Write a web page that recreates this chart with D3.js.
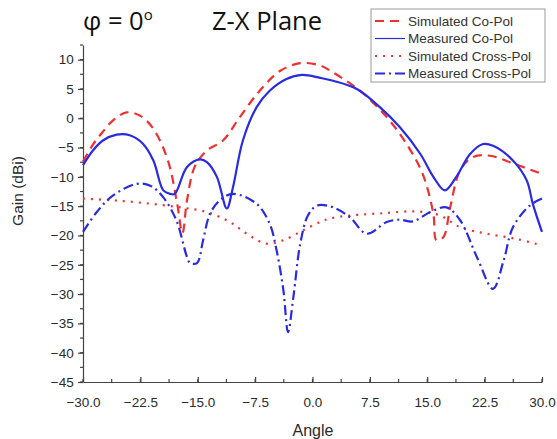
<!DOCTYPE html>
<html><head><meta charset="utf-8">
<script src="https://cdn.jsdelivr.net/npm/d3@7"></script>
<style>body{margin:0;background:#fff}svg{display:block}</style>
</head><body>
<svg id="c" width="557" height="439"></svg>
<script>
const xTicks = [-30, -22.5, -15, -7.5, 0, 7.5, 15, 22.5, 30];
const yTicks = [10, 5, 0, -5, -10, -15, -20, -25, -30, -35, -40, -45];
const seriesNames = ["Simulated Co-Pol", "Measured Co-Pol", "Simulated Cross-Pol", "Measured Cross-Pol"];

const simCo = [[-30,-7.4],[-28.7,-4.5],[-27.4,-2.3],[-26.1,-0.4],[-24.3,1.0],[-22.5,0.4],[-20.8,-1.8],[-18.9,-7.2],[-17.7,-14.5],[-17.0,-19.6],[-16.4,-14],[-15.4,-8.3],[-13.8,-5.5],[-11.7,-3.8],[-9.5,0.2],[-6.9,4.7],[-4.2,8.1],[-1.6,9.4],[1.0,9.0],[2.7,7.8],[6.2,4.7],[9.7,0.2],[12.3,-4.4],[14.4,-9.5],[15.8,-16.3],[16.2,-20.8],[17.1,-20.3],[18.0,-15.2],[19.3,-8.9],[21.0,-6.6],[23.2,-6.4],[26.2,-7.7],[30,-9.5]];
const measCo = [[-30,-8.0],[-28.7,-5.5],[-27.4,-3.8],[-25.6,-2.8],[-23.9,-2.9],[-22.2,-4.3],[-20.8,-7.2],[-19.5,-12.3],[-18.6,-12.9],[-18.0,-12.9],[-16.4,-8.3],[-14.7,-7.0],[-13.8,-7.5],[-12.5,-10.0],[-11.2,-15.4],[-10.4,-11.8],[-9.1,-3.8],[-7.3,1.9],[-5.6,4.7],[-3.4,6.7],[-1.4,7.4],[1.0,6.9],[2.7,6.4],[5.8,5.0],[8.8,1.9],[11.4,-1.5],[14.1,-6.1],[15.8,-10.0],[17.3,-12.3],[18.8,-10.0],[20.6,-6.1],[22.3,-4.4],[23.6,-4.7],[26.2,-7.2],[28.0,-10.6],[28.8,-14.6],[30,-19.4]];
const simCross = [[-30,-13.7],[-26.1,-14.0],[-21.7,-14.5],[-17.3,-15.2],[-13.8,-16.0],[-10.8,-17.7],[-8.6,-19.7],[-6.0,-21.4],[-3.8,-20.8],[-1.2,-19.1],[1.0,-17.7],[2.3,-17.1],[4.9,-16.6],[9.2,-16.2],[13.6,-15.9],[16.7,-16.6],[19.3,-18.6],[22.8,-19.7],[26.7,-20.6],[30,-21.7]];
const measCross = [[-30,-19.4],[-28.2,-16.0],[-26.1,-13.2],[-23.0,-11.2],[-21.2,-11.5],[-19.5,-13.5],[-17.8,-17.4],[-16.4,-23.7],[-16.0,-24.7],[-15.1,-24.7],[-14.3,-20.8],[-13.4,-16.3],[-12.1,-14.0],[-10.4,-12.9],[-7.3,-14.6],[-5.6,-18.0],[-4.7,-22.5],[-3.8,-29.4],[-3.2,-36.5],[-2.5,-30.5],[-1.6,-21.4],[-0.6,-16.6],[0.6,-14.9],[2.7,-15.2],[4.9,-16.9],[7.1,-19.7],[9.7,-17.7],[11.4,-17.3],[13.1,-17.6],[15.4,-16.0],[17.5,-15.2],[19.3,-17.4],[21.5,-23.7],[23.6,-29.1],[25.0,-24.2],[26.2,-18.6],[28.4,-14.9],[30,-13.7]];

const svg = d3.select("#c");
const x = d3.scaleLinear().domain([-30, 30]).range([83, 542]);
const y = d3.scaleLinear().domain([-45, 12.5]).range([382, 45]);
const axisFont = "'Liberation Sans', Arial, sans-serif";

// minor ticks
const xMinor = d3.range(-30, 30.01, 3.75);
const yMinor = d3.range(-45, 12.51, 2.5);
svg.append("g").selectAll("line").data(xMinor).join("line")
  .attr("x1", d => x(d)).attr("x2", d => x(d)).attr("y1", 382).attr("y2", 379)
  .attr("stroke", "#444").attr("stroke-width", 1.2);
svg.append("g").selectAll("line").data(yMinor).join("line")
  .attr("x1", 80).attr("x2", 83).attr("y1", d => y(d)).attr("y2", d => y(d))
  .attr("stroke", "#444").attr("stroke-width", 1.2);

const xAxis = svg.append("g").attr("transform", "translate(0,382)")
  .call(d3.axisBottom(x).tickValues(xTicks).tickFormat(d3.format(".1f")).tickSize(-5).tickSizeOuter(0));
const yAxis = svg.append("g").attr("transform", "translate(83,0)")
  .call(d3.axisLeft(y).tickValues(yTicks).tickFormat(d3.format("d")).tickSize(5).tickSizeOuter(0));
[xAxis, yAxis].forEach(g => {
  g.select(".domain").attr("stroke", "#444").attr("stroke-width", 1.2);
  g.selectAll(".tick line").attr("stroke", "#444").attr("stroke-width", 1.2);
  g.selectAll("text").attr("font-family", axisFont).attr("font-size", 13.5).attr("fill", "#2a2a2a");
});
xAxis.selectAll("text").attr("y", 15).attr("dy", "0.71em");
yAxis.selectAll("text").attr("dx", "-0.1em");

svg.append("text").attr("x", 313).attr("y", 436).attr("text-anchor", "middle")
  .attr("font-family", axisFont).attr("font-size", 16).attr("fill", "#2a2a2a").text("Angle");
svg.append("text").attr("transform", "translate(23,191) rotate(-90)").attr("text-anchor", "middle")
  .attr("font-family", axisFont).attr("font-size", 15.5).attr("fill", "#2a2a2a").text("Gain (dBi)");

const red = "#f03030", blue = "#2a2ae0";
const styles = [
  {data: simCo, color: red, dash: "9,6"},
  {data: measCo, color: blue, dash: null},
  {data: simCross, color: red, dash: "2,6"},
  {data: measCross, color: blue, dash: "10,4,2,4"}
];
const line = d3.line().x(d => x(d[0])).y(d => y(d[1])).curve(d3.curveCatmullRom.alpha(0.5));
styles.forEach(s => {
  svg.append("path").datum(s.data).attr("d", line).attr("fill", "none")
    .attr("stroke", s.color).attr("stroke-width", 2.2)
    .attr("stroke-dasharray", s.dash);
});

// title
const tFont = "'Open Sans', 'Noto Sans', sans-serif";
const t1 = svg.append("text").attr("x", 83).attr("y", 30).attr("font-family", tFont).attr("font-size", 25.5).attr("fill", "#111");
t1.append("tspan").text("φ = 0");
t1.append("tspan").attr("font-size", 15).attr("dy", -10).text("o");
svg.append("text").attr("x", 212).attr("y", 30).attr("font-family", tFont).attr("font-size", 25.5).attr("fill", "#111").text("Z-X Plane");

// legend
const lg = svg.append("g");
lg.append("rect").attr("x", 371).attr("y", 9).attr("width", 174).attr("height", 73)
  .attr("fill", "#fff").attr("stroke", "#999").attr("stroke-width", 1);
styles.forEach((s, i) => {
  const yy = 21 + i * 17.5;
  lg.append("line").attr("x1", 375).attr("x2", 405).attr("y1", yy).attr("y2", yy)
    .attr("stroke", s.color).attr("stroke-width", i === 1 ? 1.2 : 2).attr("stroke-dasharray", s.dash);
  lg.append("text").attr("x", 408).attr("y", yy + 4.5).attr("font-family", axisFont).attr("font-size", 13.5)
    .attr("fill", "#333").text(seriesNames[i]);
});
</script>
</body></html>
